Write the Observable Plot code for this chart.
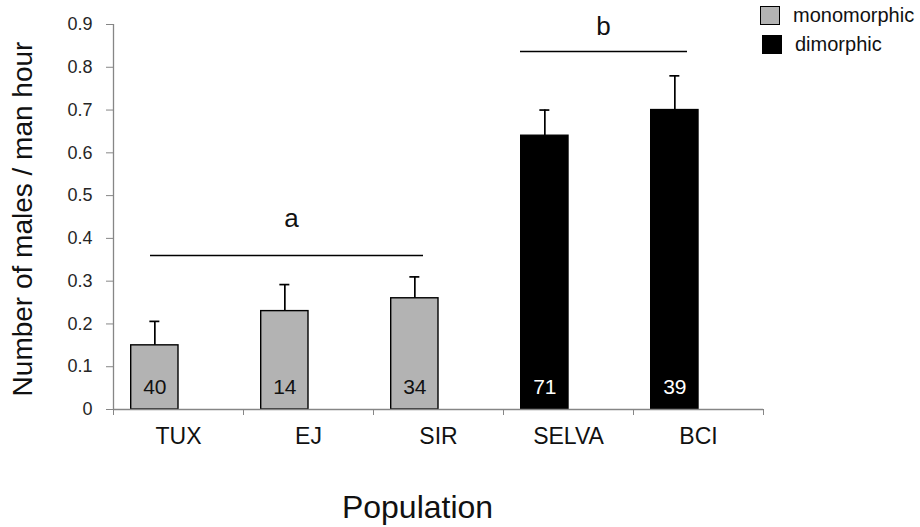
<!DOCTYPE html>
<html><head><meta charset="utf-8">
<script src="https://cdn.jsdelivr.net/npm/d3@7"></script>
<script src="https://cdn.jsdelivr.net/npm/@observablehq/plot@0.6"></script>
<style>
body{margin:0;background:#fff;}
#wrap{position:relative;width:920px;height:527px;font-family:"Liberation Sans",Arial,sans-serif;}
#legend{position:absolute;left:760px;top:1px;font-size:20px;color:#111;}
.item{display:flex;align-items:center;height:29px;}
.sw{width:18px;height:17px;border:1.5px solid #000;margin-right:13px;box-sizing:content-box;}
</style></head><body><div id="wrap"><div id="legend"></div></div>
<script>
const populations = ["TUX", "EJ", "SIR", "SELVA", "BCI"];
const groups = ["monomorphic", "monomorphic", "monomorphic", "dimorphic", "dimorphic"];
const means = [0.15, 0.23, 0.26, 0.64, 0.70];
const errors = [0.056, 0.062, 0.05, 0.06, 0.08];
const sampleSizes = [40, 14, 34, 71, 39];
const yTicks = [0, 0.1, 0.2, 0.3, 0.4, 0.5, 0.6, 0.7, 0.8, 0.9];
const sigLetters = ["a", "b"];
const sigFrom = ["TUX", "SELVA"];
const sigTo = ["SIR", "BCI"];
const sigLineY = [0.36, 0.837];
const sigLetterY = [0.445, 0.894];
const legendGroups = ["monomorphic", "dimorphic"];
const groupColors = ["#b3b3b3", "#000000"];

const data = populations.map((p, i) => ({population: p, group: groups[i], mean: means[i], err: errors[i], n: sampleSizes[i]}));

// styling offsets (pixels)
const barInsetLeft = 17.7, barInsetRight = 65;
const errDx = -23.65;
const sigInsets = [[37, 80], [17, 76]];
const sigLetterDx = [113, 35];
const axisGray = "#868686";

const marks = [
  Plot.barY(data, {x: "population", y: "mean", fill: "group", stroke: "#000", strokeWidth: 1.4, insetLeft: barInsetLeft, insetRight: barInsetRight}),
  Plot.ruleX(data, {x: "population", y1: "mean", y2: d => d.mean + d.err, dx: errDx, stroke: "#000", strokeWidth: 1.7}),
  Plot.tickY(data, {x: "population", y: d => d.mean + d.err, insetLeft: 36.35, insetRight: 83.65, stroke: "#000", strokeWidth: 1.7}),
  Plot.text(data.filter(d => d.group === "monomorphic"), {x: "population", text: "n", frameAnchor: "bottom", lineAnchor: "middle", dy: -22, dx: errDx, fill: "#111", fontSize: 21}),
  Plot.text(data.filter(d => d.group === "dimorphic"), {x: "population", text: "n", frameAnchor: "bottom", lineAnchor: "middle", dy: -22, dx: errDx, fill: "#fff", fontSize: 21}),
  Plot.ruleX([populations[0]], {x: d => d, y1: 0, y2: 0.9, dx: -65, stroke: axisGray, strokeWidth: 1.3}),
  Plot.ruleY([0], {stroke: axisGray, strokeWidth: 1.3}),
  Plot.axisY({ticks: yTicks, tickSize: 7, tickPadding: 14, tickFormat: d => d === 0 ? "0" : d.toFixed(1), fontSize: 18, stroke: axisGray, fill: "#262626", label: null}),
  Plot.axisX(populations, {tickSize: 6, tickFormat: () => "", dx: -65, stroke: axisGray, label: null}),
  Plot.axisX([populations[populations.length - 1]], {tickSize: 6, tickFormat: () => "", dx: 65, stroke: axisGray, label: null}),
  Plot.axisX({tickSize: 0, tickPadding: 18, fontSize: 23, fill: "#111", label: null}),
  Plot.text(["Number of males / man hour"], {frameAnchor: "left", textAnchor: "middle", lineAnchor: "middle", dx: -90, dy: 2, rotate: -90, fontSize: 28, fill: "#111"}),
  Plot.text(["Population"], {frameAnchor: "bottom", textAnchor: "middle", lineAnchor: "middle", dx: -21, dy: 98, fontSize: 32, fill: "#111"})
];
sigLetters.forEach((letter, g) => {
  marks.push(Plot.ruleY([g], {x1: d => sigFrom[d], x2: d => sigTo[d], y: d => sigLineY[d], insetLeft: sigInsets[g][0], insetRight: sigInsets[g][1], stroke: "#000", strokeWidth: 1.6}));
  marks.push(Plot.text([g], {x: d => sigFrom[d], y: d => sigLetterY[d], text: d => sigLetters[d], dx: sigLetterDx[g], fontSize: 26, fill: "#111"}));
});

const chart = Plot.plot({
  width: 920,
  height: 527,
  marginLeft: 113,
  marginRight: 157,
  marginTop: 24,
  marginBottom: 118,
  style: {fontFamily: '"Liberation Sans", Arial, sans-serif', background: "white", overflow: "visible"},
  x: {domain: populations, padding: 0},
  y: {domain: [0, 0.9]},
  color: {domain: legendGroups, range: groupColors},
  marks
});
document.getElementById("wrap").prepend(chart);

const legend = document.getElementById("legend");
legendGroups.forEach((g, i) => {
  const item = document.createElement("div");
  item.className = "item";
  const sw = document.createElement("span");
  sw.className = "sw";
  sw.style.background = groupColors[i];
  if (i === 1) sw.style.marginLeft = "2px";
  const label = document.createElement("span");
  label.textContent = g;
  item.append(sw, label);
  legend.append(item);
});
</script>
</body></html>
